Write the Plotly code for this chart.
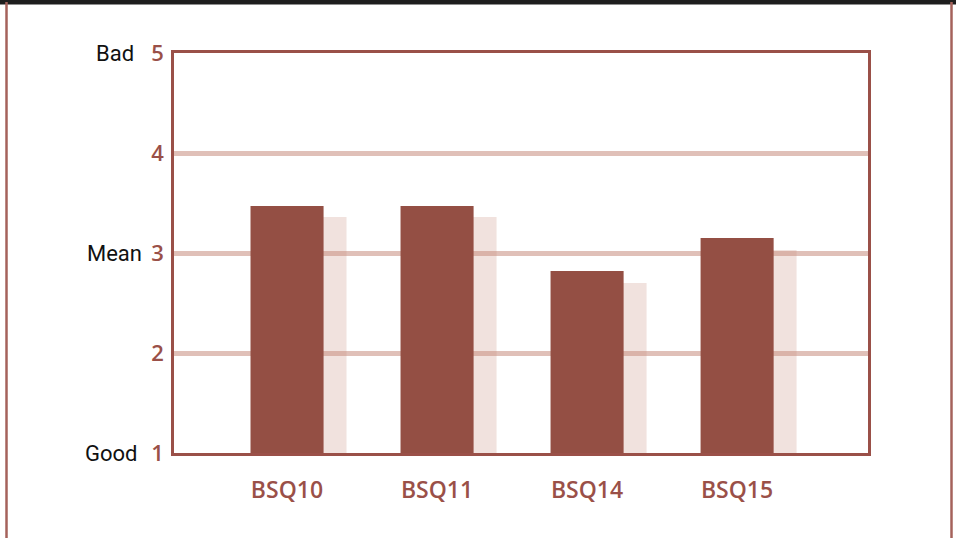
import plotly.graph_objects as go

categories = ["BSQ10", "BSQ11", "BSQ14", "BSQ15"]
primary_values = [3.47, 3.47, 2.82, 3.15]
comparison_values = [3.36, 3.36, 2.70, 3.03]
y_tick_values = [1, 2, 3, 4, 5]
y_side_labels = ["Bad", "Mean", "Good"]
y_side_label_values = [5, 3, 1]

DARK = "#944f44"
LIGHT = "rgba(200,140,125,0.25)"
GRID = "#e0c0b8"
BORDER = "#9a5048"
FRAME = "#a5625b"

W, H = 956, 538
L, R, T, B = 174, 868, 53, 453

fig = go.Figure()
fig.add_trace(go.Bar(x=categories, y=comparison_values, marker=dict(color=LIGHT, line=dict(width=0)),
                     width=0.487, offset=-0.09, showlegend=False, hoverinfo="skip"))
fig.add_trace(go.Bar(x=categories, y=primary_values, marker=dict(color=DARK, line=dict(width=0)),
                     width=0.487, offset=-0.243, showlegend=False))

def px_x(p):
    return (p - L) / (R - L)

def px_y(p):
    return (B - p) / (B - T)

shapes = [
    dict(type="rect", xref="paper", yref="paper", x0=px_x(0), x1=px_x(W), y0=px_y(4.5), y1=px_y(-2),
         fillcolor="#1e1e1e", line=dict(width=0), layer="above"),
    dict(type="line", xref="paper", yref="paper", x0=px_x(6.5), x1=px_x(6.5), y0=px_y(2), y1=px_y(540),
         line=dict(color=FRAME, width=2.5)),
    dict(type="line", xref="paper", yref="paper", x0=px_x(951.5), x1=px_x(951.5), y0=px_y(2), y1=px_y(540),
         line=dict(color=FRAME, width=2.5)),
]

label_right_px = [136, 144, 140]
annotations = []
for t, v, rx in zip(y_side_labels, y_side_label_values, label_right_px):
    annotations.append(dict(x=px_x(rx), y=v, xref="paper", yref="y", text=t, showarrow=False,
                            xanchor="right", yanchor="middle",
                            font=dict(family="Roboto, Open Sans, sans-serif", size=22, color="#111111")))

fig.update_layout(
    width=W, height=H,
    margin=dict(l=L, r=W - R, t=T, b=H - B, pad=0),
    paper_bgcolor="white", plot_bgcolor="white",
    barmode="overlay",
    shapes=shapes,
    annotations=annotations,
    xaxis=dict(range=[-0.753, 3.873], showgrid=False, showline=True, mirror=True,
               linecolor=BORDER, linewidth=2.5, ticks="", ticklabelstandoff=15,
               tickfont=dict(family="Open Sans, sans-serif", size=23, color=BORDER, weight=600),
               fixedrange=True),
    yaxis=dict(range=[1, 5], tickvals=y_tick_values, showgrid=True, gridcolor=GRID, gridwidth=5,
               zeroline=False, showline=True, mirror=True, linecolor=BORDER, linewidth=2.5,
               ticks="", ticklabelstandoff=3,
               tickfont=dict(family="Open Sans, sans-serif", size=22, color=BORDER, weight=600)),
)

fig.write_html("out.html", config={"displayModeBar": False},
               post_script="document.body.style.margin='0';document.body.style.overflow='hidden';")
